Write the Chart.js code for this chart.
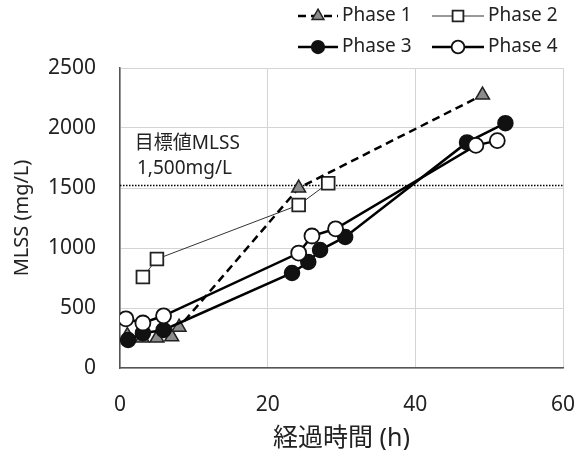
<!DOCTYPE html>
<html>
<head>
<meta charset="utf-8">
<script src="https://cdn.jsdelivr.net/npm/chart.js@4"></script>
<style>
  html, body { margin: 0; padding: 0; background: #fff; }
  #wrap { width: 579px; height: 450px; }
</style>
</head>
<body>
<div id="wrap"><canvas id="grafico" width="579" height="450"></canvas></div>
<script>
// datos
const fase1X = [1, 3, 5, 7, 8, 24.2, 49.1];
const fase1Y = [270, 250, 250, 260, 340, 1500, 2275];
const fase2X = [3.1, 5.0, 24.2, 28.2];
const fase2Y = [758, 908, 1358, 1540];
const fase3X = [1.1, 3.1, 5.9, 23.3, 25.5, 27.1, 30.5, 47, 52.2];
const fase3Y = [233, 290, 317, 792, 883, 983, 1092, 1880, 2040];
const fase4X = [0.8, 3.1, 5.9, 24.2, 26, 29.2, 48.2, 51.1];
const fase4Y = [410, 375, 435, 958, 1100, 1160, 1855, 1895];
const objetivoX = [0, 60];
const objetivoY = [1520, 1520];
const nombres = ['Phase 1', 'Phase 2', 'Phase 3', 'Phase 4'];
const etiquetaObjetivo = ['目標値MLSS', '1,500mg/L'];

const fuente = "'Noto Sans', 'Noto Sans CJK JP', sans-serif";

function puntos(xs, ys) {
    return xs.map((x, i) => ({ x: x, y: ys[i] }));
}

const series = [
    { label: nombres[0], data: puntos(fase1X, fase1Y), borderColor: '#000', borderWidth: 2.5, borderDash: [8, 5],
      pointStyle: 'triangle', pointRadius: 8, pointBackgroundColor: '#8c8c8c', pointBorderColor: '#222', pointBorderWidth: 1.5, order: 3 },
    { label: nombres[1], data: puntos(fase2X, fase2Y), borderColor: '#333', borderWidth: 1,
      pointStyle: 'rect', pointRadius: 9, pointBackgroundColor: '#fff', pointBorderColor: '#222', pointBorderWidth: 1.8, order: 4 },
    { label: nombres[2], data: puntos(fase3X, fase3Y), borderColor: '#000', borderWidth: 2.5,
      pointStyle: 'circle', pointRadius: 7.5, pointBackgroundColor: '#111', pointBorderColor: '#111', pointBorderWidth: 1.5, order: 2 },
    { label: nombres[3], data: puntos(fase4X, fase4Y), borderColor: '#000', borderWidth: 2.5,
      pointStyle: 'circle', pointRadius: 7.5, pointBackgroundColor: '#fff', pointBorderColor: '#111', pointBorderWidth: 1.8, order: 1 }
];

// leyenda y texto del objetivo dibujados a mano
const extras = {
    id: 'extras',
    afterDraw(chart) {
        const ctx = chart.ctx;
        const sx = chart.scales.x, sy = chart.scales.y;
        ctx.save();
        ctx.fillStyle = '#222';
        ctx.font = '19px ' + fuente;
        ctx.textAlign = 'left';
        ctx.textBaseline = 'middle';
        ctx.fillText(etiquetaObjetivo[0], sx.getPixelForValue(2), sy.getPixelForValue(1870));
        ctx.fillText(etiquetaObjetivo[1], sx.getPixelForValue(2.3), sy.getPixelForValue(1665));

        const cols = [[298, 338], [432, 484]];
        const filas = [16, 47];
        series.forEach((s, i) => {
            const c = cols[i % 2], y = filas[Math.floor(i / 2)];
            ctx.save();
            ctx.strokeStyle = s.borderColor;
            ctx.lineWidth = s.borderWidth;
            ctx.setLineDash(s.borderDash || []);
            ctx.beginPath();
            ctx.moveTo(c[0], y);
            ctx.lineTo(c[1], y);
            ctx.stroke();
            ctx.restore();
            ctx.fillStyle = s.pointBackgroundColor;
            ctx.strokeStyle = s.pointBorderColor;
            ctx.lineWidth = s.pointBorderWidth;
            Chart.helpers.drawPoint(ctx, { pointStyle: s.pointStyle, radius: s.pointRadius * 0.85, rotation: 0, borderWidth: s.pointBorderWidth }, (c[0] + c[1]) / 2, y);
            ctx.fillStyle = '#222';
            ctx.font = '19px ' + fuente;
            ctx.fillText(s.label, c[1] + 4, y);
        });
        ctx.restore();
    }
};

new Chart(document.getElementById('grafico').getContext('2d'), {
    type: 'scatter',
    data: {
        datasets: series.map(s => Object.assign({ showLine: true, fill: false }, s)).concat([{
            label: 'objetivo', data: puntos(objetivoX, objetivoY), showLine: true, borderColor: '#000',
            borderWidth: 1.5, borderDash: [1.5, 1.5], pointRadius: 0, order: 5
        }])
    },
    options: {
        responsive: false,
        animation: false,
        layout: { padding: { top: 68, right: 16, left: 0, bottom: 0 } },
        plugins: { legend: { display: false }, tooltip: { enabled: false } },
        scales: {
            x: {
                type: 'linear', min: 0, max: 60,
                ticks: { stepSize: 20, color: '#222', font: { family: fuente, size: 21 }, padding: 24,
                         callback: v => String(v) },
                grid: { color: '#d4d4d4', drawTicks: false },
                border: { color: '#555', width: 1.5 },
                title: { display: true, text: '経過時間 (h)', color: '#222', font: { family: fuente, size: 25 }, padding: { top: 4, bottom: -4 } },
                afterFit(scale) { scale.height = 82; scale.paddingRight = 0; scale.paddingLeft = 0; }
            },
            y: {
                min: 0, max: 2500,
                ticks: { stepSize: 500, color: '#222', font: { family: fuente, size: 21 }, padding: 24,
                         callback: v => String(v) },
                grid: { color: '#d4d4d4', drawTicks: false },
                border: { color: '#555', width: 1.5 },
                title: { display: true, text: 'MLSS (mg/L)', color: '#222', font: { family: fuente, size: 20 }, padding: { top: 10, bottom: 0 } },
                afterFit(scale) { scale.width = 120; }
            }
        }
    },
    plugins: [extras]
});
</script>
</body>
</html>
